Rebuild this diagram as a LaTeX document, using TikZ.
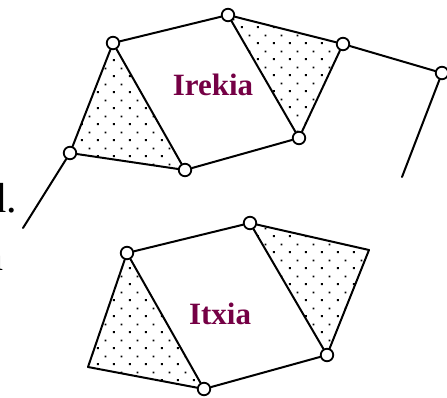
\documentclass[tikz,border=0pt]{standalone}
\usepackage{fontspec}
\setmainfont{Liberation Serif}
\usetikzlibrary{patterns, backgrounds}
\definecolor{plum}{HTML}{750045}
\pgfdeclarepatternformonly{sparsedots}{\pgfpointorigin}{\pgfpoint{16pt}{16pt}}{\pgfpoint{16pt}{16pt}}{%
  \pgfpathrectangle{\pgfpoint{1pt}{1pt}}{\pgfpoint{2pt}{2pt}}%
  \pgfpathrectangle{\pgfpoint{9pt}{9pt}}{\pgfpoint{2pt}{2pt}}%
  \pgfusepath{fill}}
\tikzset{
  joint/.style={circle, draw, fill=white, line width=1.8pt,
                minimum size=12.5pt, inner sep=0pt},
  link/.style={line width=2pt, line cap=round, line join=round},
  hatch/.style={pattern=sparsedots},
  lbl/.style={font=\fontsize{31}{31}\selectfont\bfseries, text=plum, anchor=base},
  margintext/.style={font=\fontsize{42}{42}\selectfont, anchor=base east, inner sep=0pt},
}

\begin{document}
\begin{tikzpicture}[x=1pt, y=-1pt]
  \useasboundingbox (0,0) rectangle (447,397);

  % upper block
  \node[joint] (a1) at (113,43) {};
  \node[joint] (a2) at (228,15) {};
  \node[joint] (a3) at (343,44) {};
  \node[joint] (a4) at (442,73) {};
  \node[joint] (a5) at (299,138) {};
  \node[joint] (a6) at (185,170) {};
  \node[joint] (a7) at (70,153) {};
  \coordinate (a8) at (23,228);
  \coordinate (a9) at (402,177);
  \node[lbl] (irekia) at (213,95) {Irekia};

  % lower block
  \node[joint] (b1) at (127,253) {};
  \node[joint] (b2) at (250,223) {};
  \coordinate (b3) at (369,250);
  \node[joint] (b4) at (327,355) {};
  \node[joint] (b5) at (204,389) {};
  \coordinate (b6) at (88,367);
  \node[lbl] (itxia) at (220,324) {Itxia};

  % cut-off text on the left
  \node[margintext] (cutd) at (17,212) {d.};
  \node[margintext] (cutn) at (4,270) {n};

  \begin{scope}[on background layer]
    \fill[white] (0,0) rectangle (447,397);
    \fill[hatch] (a1.center) -- (a6.center) -- (a7.center) -- cycle;
    \fill[hatch] (a2.center) -- (a3.center) -- (a5.center) -- cycle;
    \fill[hatch] (b1.center) -- (b5.center) -- (b6) -- cycle;
    \fill[hatch] (b2.center) -- (b3) -- (b4.center) -- cycle;
  \end{scope}

  \foreach \from/\to in {a1/a2, a2/a3, a3/a4, a3/a5, a2/a5, a5/a6,
                         a6/a7, a7/a1, a1/a6, a7/a8, a4/a9}
    \draw[link] (\from) -- (\to);

  \foreach \from/\to in {b1/b2, b2/b3, b3/b4, b2/b4, b4/b5,
                         b5/b6, b6/b1, b1/b5}
    \draw[link] (\from) -- (\to);
\end{tikzpicture}
\end{document}
